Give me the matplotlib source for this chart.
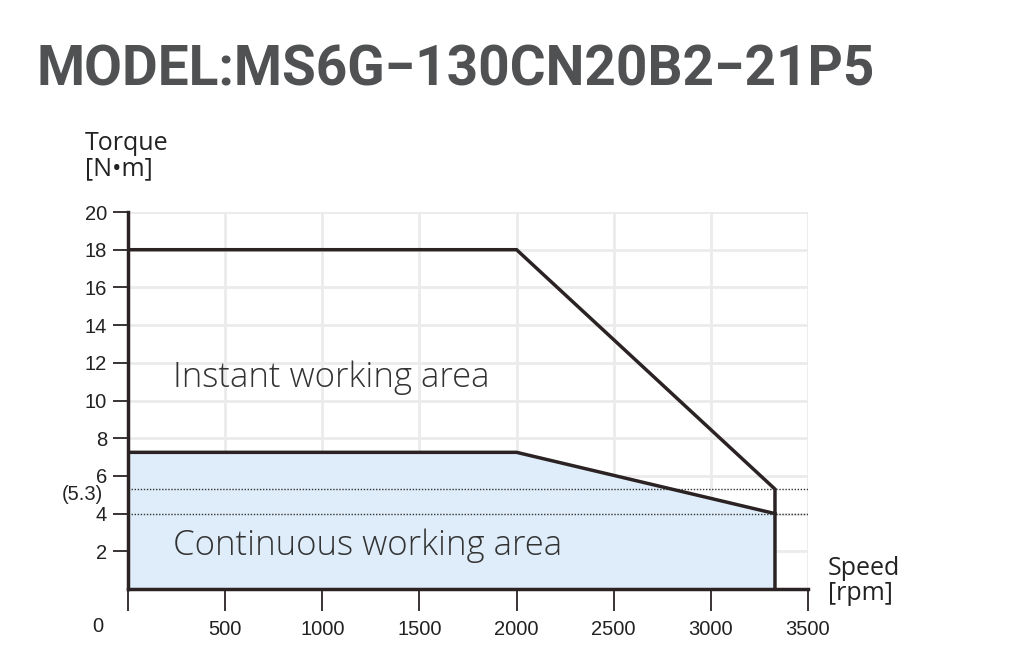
import matplotlib
matplotlib.use("Agg")
import matplotlib.pyplot as plt

# speed [rpm] / torque [N*m] corner points
instant_speed = [0, 2000, 3330, 3330]
instant_torque = [18.0, 18.0, 5.3, 0]
cont_speed = [0, 2000, 3330]
cont_torque = [7.25, 7.25, 4.0]
ref_levels = [5.3, 4.0]

x_ticks = [500, 1000, 1500, 2000, 2500, 3000, 3500]
y_ticks = [2, 4, 6, 8, 10, 12, 14, 16, 18, 20]

line_col = "#2b2323"
fill_col = "#deedf9"
grid_col = "#ebebeb"

fig = plt.figure(figsize=(10.1, 6.67), dpi=100)
ax = fig.add_axes([128 / 1010, 1 - 589 / 667, 680 / 1010, 377 / 667])

ax.set_xlim(0, 3500)
ax.set_ylim(0, 20)

# grid
for xv in x_ticks:
    ax.axvline(xv, color=grid_col, lw=2, zorder=0)
for yv in y_ticks:
    ax.axhline(yv, color=grid_col, lw=2, zorder=0)

# continuous area
ax.fill_between(cont_speed, cont_torque, 0, color=fill_col, lw=0, zorder=1)
ax.plot(cont_speed, cont_torque, color=line_col, lw=2.5, zorder=3,
        solid_joinstyle="miter")
# instant envelope
ax.plot(instant_speed, instant_torque, color=line_col, lw=2.5, zorder=3,
        solid_joinstyle="miter")

for lv in ref_levels:
    ax.axhline(lv, color="#333333", lw=1, ls=(0, (1, 1.2)), zorder=2)

for s in ["top", "right"]:
    ax.spines[s].set_visible(False)
for s in ["left", "bottom"]:
    ax.spines[s].set_linewidth(2.5)
    ax.spines[s].set_color(line_col)
    ax.spines[s].set_zorder(4)

ax.set_xticks([0] + x_ticks)
ax.set_xticklabels([""] + [str(v) for v in x_ticks])
ax.set_yticks(y_ticks)
ax.set_yticklabels([str(v) for v in y_ticks])
ax.tick_params(axis="x", direction="out", length=16, width=1.3, color=line_col,
               pad=6, labelsize=14.5, labelcolor="#222222")
ax.tick_params(axis="y", direction="out", length=11, width=1.3, color=line_col,
               pad=4, labelsize=14.5, labelcolor="#222222")
for lab in ax.get_xticklabels() + ax.get_yticklabels():
    lab.set_fontfamily("Liberation Sans")

# corner zero and (5.3) marker
fig.text(98 / 1010, 1 - 627 / 667, "0", ha="center", va="center",
         fontsize=14.5, family="Liberation Sans", color="#222222")
ax.text(-130, 5.0, "(5.3)", ha="right", va="center", fontsize=14.5,
        family="Liberation Sans", color="#222222")

# area labels
ax.text(230, 11.2, "Instant working area", fontsize=25, family="Open Sans",
        weight="light", color="#333333", va="center")
ax.text(230, 2.3, "Continuous working area", fontsize=25, family="Open Sans",
        weight="light", color="#333333", va="center")

# axis names
fig.text(85 / 1010, 1 - 156 / 667, "Torque\n[N\u2022m]", fontsize=18,
         family="Open Sans", color="#222222", va="center", ha="left",
         linespacing=1.05)
fig.text(828 / 1010, 1 - 581 / 667, "Speed\n[rpm]", fontsize=18,
         family="Open Sans", color="#222222", va="center", ha="left",
         linespacing=1.05)

# title
fig.text(37 / 1010, 1 - 70 / 667, "MODEL:MS6G\u2212130CN20B2\u221221P5",
         fontsize=39.5, weight="semibold", family="Roboto",
         color="#4f5152", va="center", ha="left")

fig.savefig("out.png", dpi=100)
